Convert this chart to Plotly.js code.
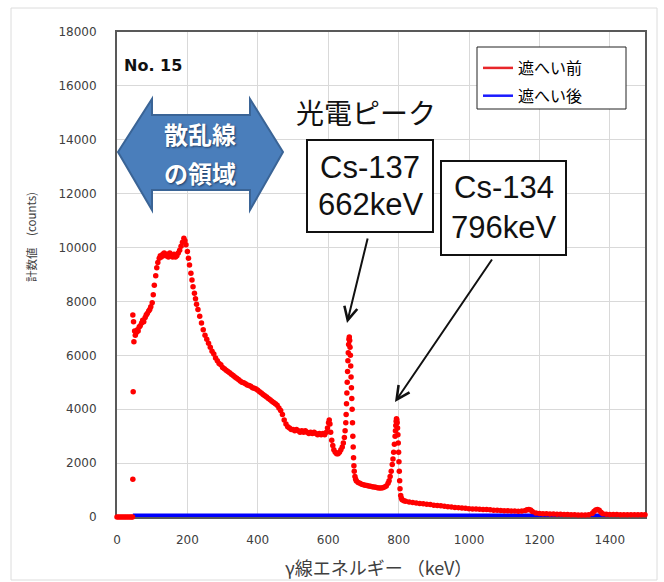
<!DOCTYPE html>
<html>
<head>
<meta charset="utf-8">
<script src="https://cdn.plot.ly/plotly-3.0.1.min.js"></script>
<style>html,body{margin:0;padding:0;background:#fff;}#chart{width:664px;height:582px;}</style>
</head>
<body>
<div id="chart"></div>
<script>
// ---- Data: 遮へい前 (before shielding) ----
const lowEnergy   = [0,5,10,15,20,25,30,35,40,44,45,45,46,47,48];
const lowCounts   = [0,0,0,0,0,0,0,0,0,0,1400,7500,4650,7250,6500];

const comptonEnergy = [50,52,55,58,60,63,66,70,73,76,80,83,86,90,93,96,100,103,106,110,113,116,120,123,126,130,134,138,142,146,150,154,158,162,166,170,174,178,182,186,190,193,196,200,203,206,210,213,216,220,223,226,230,
  235,240,245,250,255,260,265,270,275,280,285,290,295,300,305,310,315,320,325,330,335,340,345,350,355,360,365,370,375,380,385,390,395,400,405,410,415,420,425,430,435,440,445,450,455,460,465,470,475,480,485,490,495,500,505,510,515,520,525,530,535,540,545,550,555,560,565,570,575,580,585,590,595];
const comptonCounts = [6900,6750,6850,6950,6900,7050,7100,7200,7300,7250,7400,7500,7550,7650,7700,7800,7950,8250,8600,8950,9250,9450,9600,9700,9650,9750,9800,9700,9750,9650,9800,9700,9650,9750,9650,9700,9800,9900,10050,10200,10350,10250,10100,9850,9600,9350,9050,8800,8550,8300,8100,7900,7700,
  7450,7200,6950,6750,6600,6450,6300,6150,6050,5900,5800,5700,5650,5550,5500,5450,5400,5350,5300,5250,5200,5150,5100,5050,5000,4980,4950,4900,4880,4850,4800,4780,4750,4700,4650,4600,4550,4500,4450,4400,4350,4300,4250,4200,4150,4050,3950,3800,3600,3450,3350,3300,3250,3250,3200,3250,3200,3150,3200,3150,3200,3150,3100,3150,3100,3150,3100,3050,3100,3050,3100,3050,3150];

const cs137Energy = [598,601,603,605,607,610,613,616,620,624,628,632,636,640,643,646,648,650,651,652,653,654,655,656,657,658,659,660,661,662,663,664,665,666,667,668,669,670,671,672,673,674,676,678,680];
const cs137Counts = [3300,3500,3600,3450,3150,2850,2650,2500,2400,2350,2350,2400,2500,2600,2750,2950,3200,3500,3800,4200,4600,5000,5400,5800,6100,6400,6600,6680,6550,6300,6000,5600,5200,4800,4400,4000,3500,3000,2600,2200,1900,1700,1500,1400,1340];

const cs134Energy = [685,690,695,700,705,710,715,720,725,730,735,740,745,750,755,760,765,770,773,776,779,782,784,786,788,790,791,792,793,794,795,796,797,798,799,800,801,802,803,804,806,808,810];
const cs134Counts = [1280,1250,1220,1200,1180,1170,1150,1140,1120,1110,1100,1090,1080,1080,1090,1110,1150,1250,1350,1500,1700,1950,2150,2400,2700,3000,3200,3400,3550,3650,3600,3500,3300,3050,2750,2400,2050,1700,1350,1050,800,700,640];

const tailEnergy = [815,820,830,840,850,860,870,880,890,900,910,920,930,940,950,960,970,980,990,1000,1010,1020,1030,1040,1050,1060,1070,1080,1090,1100,1110,1120,1130,1140,1150,1160,1165,1170,1175,1180,1190,1200,1210,1220,1230,1240,1250,1260,1270,1280,1290,1300,1310,1320,1330,1340,1350,1355,1360,1365,1370,1375,1380,1390,1400,1410,1420,1430,1440,1450,1460,1470,1480,1490,1500];
const tailCounts = [600,580,560,540,520,500,490,470,460,440,430,415,400,385,370,355,345,335,325,310,300,295,290,280,275,265,255,250,240,235,230,225,220,215,220,240,270,280,260,200,150,130,125,120,115,110,105,100,95,90,85,80,75,70,70,80,130,200,260,280,250,180,120,100,95,90,90,85,85,85,80,80,80,80,80];

// ---- Data: 遮へい後 (after shielding) ----
const afterEnergy = [45,100,200,300,400,500,600,700,800,900,1000,1100,1200,1300,1340,1360,1370,1380,1400,1500];
const afterCounts = [0,0,0,0,0,0,0,0,0,0,0,0,0,0,0,60,40,0,0,0];

const seriesNames = ['遮へい前','遮へい後'];
const xTicks = [0,200,400,600,800,1000,1200,1400];
const yTicks = [0,2000,4000,6000,8000,10000,12000,14000,16000,18000];

const beforeEnergy = [].concat(lowEnergy, comptonEnergy, cs137Energy, cs134Energy, tailEnergy);
const beforeCounts = [].concat(lowCounts, comptonCounts, cs137Counts, cs134Counts, tailCounts);

// ---- Layout helpers (pixel -> paper) ----
const L=117, R=645, T=32, B=517;
const X = p => (p - L) / (R - L);
const Y = p => (B - p) / (B - T);

const traces = [
  {x: afterEnergy, y: afterCounts, mode: 'lines', line: {color: '#0000ff', width: 7}, showlegend: false, cliponaxis: false, hoverinfo: 'skip'},
  {x: beforeEnergy, y: beforeCounts, mode: 'markers', marker: {color: '#ff0000', size: 5.5}, showlegend: false, cliponaxis: false},
  {x: [null], y: [null], mode: 'lines', line: {color: '#e8262a', width: 2.5}, name: seriesNames[0], legendgroup: 'a'},
  {x: [null], y: [null], mode: 'lines', line: {color: '#1a1aff', width: 2.5}, name: seriesNames[1], legendgroup: 'b'}
];

const arrowPts = [[118,152],[152,99],[152,115],[250,115],[250,99],[283,152],[250,210],[250,190],[152,190],[152,210]];
const arrowPath = 'M' + arrowPts.map(p => X(p[0]).toFixed(5) + ',' + Y(p[1]).toFixed(5)).join(' L') + ' Z';

function label(px, py, text, font, extra) {
  return Object.assign({xref: 'paper', yref: 'paper', x: X(px), y: Y(py), xanchor: 'center', yanchor: 'middle',
                        showarrow: false, text: text, font: font}, extra || {});
}
const boxFont = {family: 'Liberation Sans', size: 31, color: '#111'};
const whiteFont = {family: 'Noto Sans CJK JP', size: 24, color: '#fff', shadow: '1px 1px 2px #1f3d66'};

const layout = {
  width: 664, height: 582,
  margin: {l: L, r: 664 - R, t: T, b: 582 - B, pad: 0},
  paper_bgcolor: '#fff', plot_bgcolor: '#fff',
  showlegend: true,
  legend: {x: X(478), y: Y(51), xanchor: 'left', yanchor: 'top', borderwidth: 0,
           bgcolor: 'rgba(0,0,0,0)', font: {family: 'Noto Sans CJK JP', size: 16, color: '#000'},
           traceorder: 'grouped', tracegroupgap: 4},
  xaxis: {range: [0, 1500], tickvals: xTicks, ticktext: xTicks.map(String), showgrid: true, gridcolor: '#d9d9d9', gridwidth: 1,
          zeroline: false, showline: true, linecolor: '#595959', linewidth: 2, mirror: true, ticks: '', layer: 'below traces',
          ticklabelstandoff: 11, tickfont: {family: 'DejaVu Sans', size: 12, color: '#404040'}},
  yaxis: {range: [0, 18000], tickvals: yTicks, ticktext: yTicks.map(String), showgrid: true, gridcolor: '#d9d9d9', gridwidth: 1,
          zeroline: false, showline: true, linecolor: '#595959', linewidth: 2, mirror: true, ticks: '', layer: 'below traces',
          ticklabelstandoff: 16, tickfont: {family: 'DejaVu Sans', size: 12, color: '#404040'}},
  shapes: [
    {type: 'rect', xref: 'paper', yref: 'paper', x0: X(11), y0: Y(580), x1: X(657), y1: Y(8), line: {color: '#dcdcdc', width: 1}, layer: 'below'},
    {type: 'rect', xref: 'paper', yref: 'paper', x0: X(477), y0: Y(109), x1: X(626), y1: Y(47), fillcolor: '#fff', line: {color: '#222', width: 1}, layer: 'above'},
    {type: 'path', xref: 'paper', yref: 'paper', path: arrowPath, fillcolor: '#4a7ebb', line: {color: '#3a6496', width: 2}, layer: 'above'},
    {type: 'rect', xref: 'paper', yref: 'paper', x0: X(307), y0: Y(232), x1: X(433), y1: Y(140), fillcolor: '#fff', line: {color: '#111', width: 2}, layer: 'above'},
    {type: 'rect', xref: 'paper', yref: 'paper', x0: X(441), y0: Y(255), x1: X(566), y1: Y(161), fillcolor: '#fff', line: {color: '#111', width: 2}, layer: 'above'}
  ],
  annotations: [
    label(122, 65, '<b>No. 15</b>', {family: 'DejaVu Sans', size: 16, color: '#111'}, {xanchor: 'left'}),
    label(200, 133, '<b>散乱線</b>', whiteFont),
    label(200, 172, '<b>の領域</b>', whiteFont),
    label(366, 112, '光電ピーク', {family: 'Noto Sans CJK JP', size: 28, color: '#111'}),
    label(370, 167, 'Cs-137', boxFont),
    label(370, 205, '662keV', boxFont),
    label(503.5, 188, 'Cs-134', boxFont),
    label(503.5, 227, '796keV', boxFont),
    {xref: 'paper', yref: 'paper', x: X(347), y: Y(323), ax: 21, ay: -86, text: '', showarrow: true,
     arrowhead: 5, arrowsize: 1.3, arrowwidth: 2, arrowcolor: '#111', standoff: 0},
    {xref: 'paper', yref: 'paper', x: X(395), y: Y(402), ax: 98, ay: -144, text: '', showarrow: true,
     arrowhead: 5, arrowsize: 1.3, arrowwidth: 2, arrowcolor: '#111', standoff: 0},
    label(378, 567, 'γ線エネルギー （keV）', {family: 'Noto Sans CJK JP', size: 18, color: '#404040'}),
    label(31, 237, '計数値　(counts)', {family: 'Noto Sans CJK JP', size: 11.5, color: '#404040'}, {textangle: -90})
  ]
};

Plotly.newPlot('chart', traces, layout, {displayModeBar: false, staticPlot: true});
</script>
</body>
</html>
